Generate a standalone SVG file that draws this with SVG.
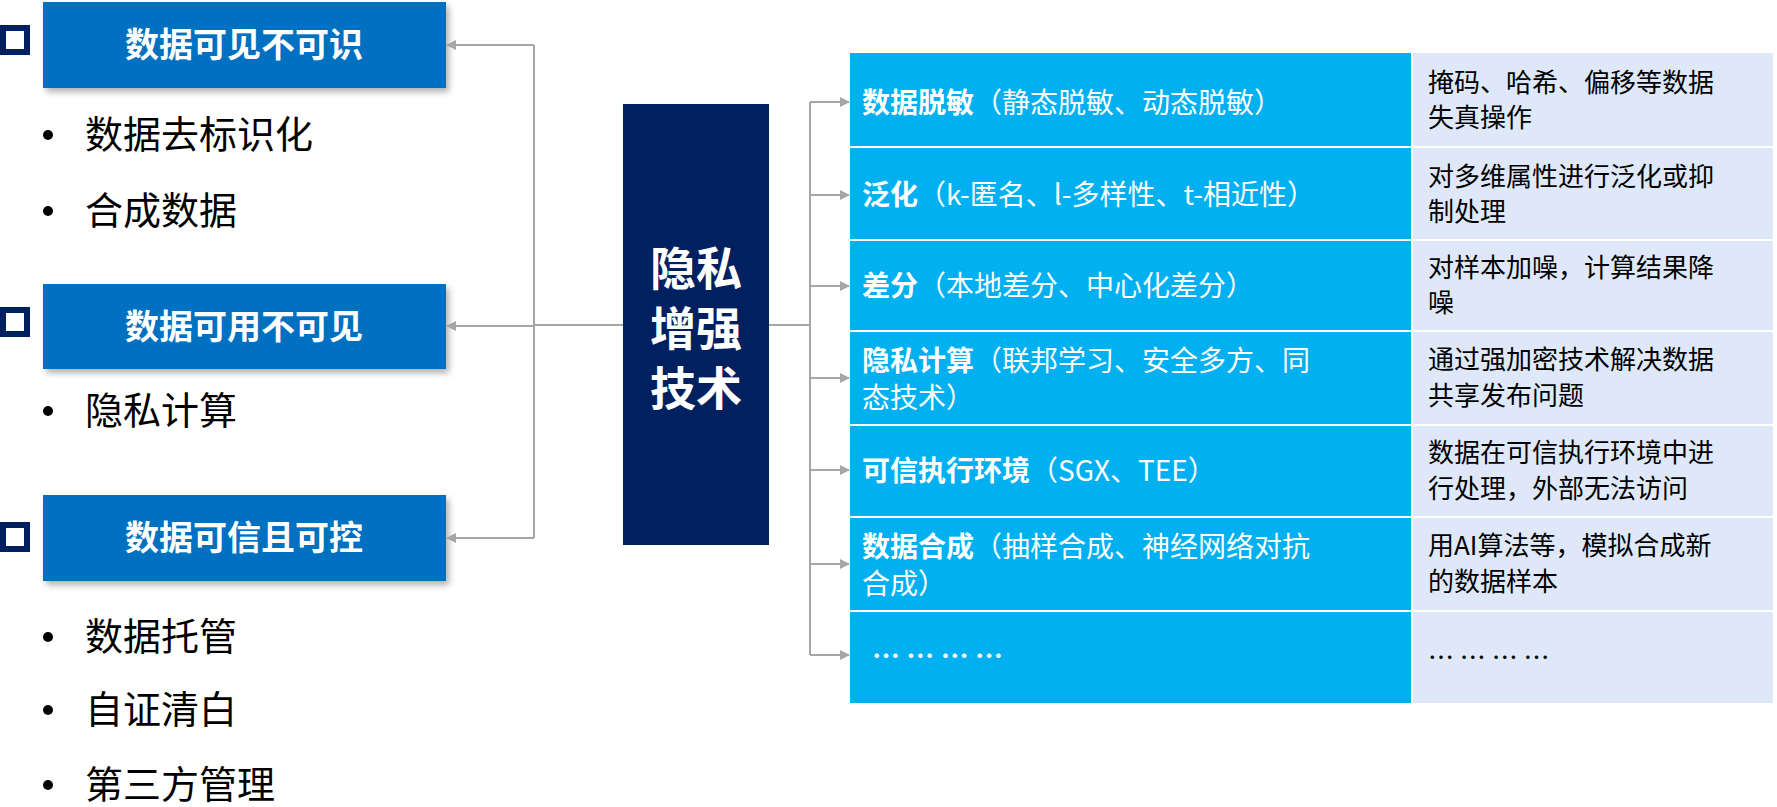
<svg xmlns="http://www.w3.org/2000/svg" width="1777" height="807" viewBox="0 0 1777 807">
<defs>
<marker id="ah" markerWidth="10" markerHeight="10" refX="9" refY="5" orient="auto" markerUnits="userSpaceOnUse"><path d="M0,0 L10,5 L0,10 z" fill="#a6a6a6"/></marker>
<filter id="sh" x="-5%" y="-10%" width="115%" height="130%"><feDropShadow dx="3" dy="4" stdDeviation="3" flood-color="#000" flood-opacity="0.3"/></filter>
</defs>
<style>
text{font-family:"Noto Sans CJK SC","Noto Sans",sans-serif}
.hd{fill:#0070c0;filter:url(#sh)}
.hdt{fill:#fff;font-size:34px;font-weight:bold;text-anchor:middle}
.sq{fill:none;stroke:#002060;stroke-width:6}
.bl{font-size:38px;fill:#000}
.c1{fill:#00b0f0}
.c2{fill:#dee8f8}
.t1{font-size:28px;fill:#fff}
.t1 tspan.b{font-weight:bold}
.t2{font-size:26px;fill:#000}
.ln{fill:none;stroke:#a6a6a6;stroke-width:2}
</style>
<g id="n-visible">
<rect class="sq" x="3" y="28" width="24" height="24"/>
<rect class="hd" x="43" y="2" width="403" height="86"/>
<text class="hdt" x="244" y="57">数据可见不可识</text>
<circle cx="48" cy="135" r="5"/><text class="bl" x="85" y="148">数据去标识化</text>
<circle cx="48" cy="211" r="5"/><text class="bl" x="85" y="224">合成数据</text>
</g>
<g id="n-usable">
<rect class="sq" x="3" y="310" width="24" height="24"/>
<rect class="hd" x="43" y="284" width="403" height="85"/>
<text class="hdt" x="244" y="339">数据可用不可见</text>
<circle cx="48" cy="411" r="5"/><text class="bl" x="85" y="424">隐私计算</text>
</g>
<g id="n-trust">
<rect class="sq" x="3" y="525" width="24" height="24"/>
<rect class="hd" x="43" y="495" width="403" height="86"/>
<text class="hdt" x="244" y="550">数据可信且可控</text>
<circle cx="48" cy="637" r="5"/><text class="bl" x="85" y="650">数据托管</text>
<circle cx="48" cy="710" r="5"/><text class="bl" x="85" y="723">自证清白</text>
<circle cx="48" cy="785" r="5"/><text class="bl" x="85" y="798">第三方管理</text>
</g>
<g id="n-center">
<rect x="623" y="104" width="146" height="441" fill="#002060"/>
<text x="696" y="285" fill="#fff" font-size="46" font-weight="bold" text-anchor="middle">隐私</text>
<text x="696" y="345" fill="#fff" font-size="46" font-weight="bold" text-anchor="middle">增强</text>
<text x="696" y="405" fill="#fff" font-size="46" font-weight="bold" text-anchor="middle">技术</text>
</g>
<g id="table">
<rect class="c1" x="850" y="53" width="561" height="93"/><rect class="c2" x="1413" y="53" width="360" height="93"/>
<text class="t1" x="862" y="113"><tspan class="b">数据脱敏</tspan>（静态脱敏、动态脱敏）</text>
<text class="t2" x="1428" y="92">掩码、哈希、偏移等数据</text><text class="t2" x="1428" y="127">失真操作</text>
<rect class="c1" x="850" y="148" width="561" height="91"/><rect class="c2" x="1413" y="148" width="360" height="91"/>
<text class="t1" x="862" y="205"><tspan class="b">泛化</tspan>（k-匿名、l-多样性、t-相近性）</text>
<text class="t2" x="1428" y="186">对多维属性进行泛化或抑</text><text class="t2" x="1428" y="221">制处理</text>
<rect class="c1" x="850" y="241" width="561" height="89"/><rect class="c2" x="1413" y="241" width="360" height="89"/>
<text class="t1" x="862" y="296"><tspan class="b">差分</tspan>（本地差分、中心化差分）</text>
<text class="t2" x="1428" y="277">对样本加噪，计算结果降</text><text class="t2" x="1428" y="312">噪</text>
<rect class="c1" x="850" y="332" width="561" height="92"/><rect class="c2" x="1413" y="332" width="360" height="92"/>
<text class="t1" x="862" y="371"><tspan class="b">隐私计算</tspan>（联邦学习、安全多方、同</text>
<text class="t1" x="862" y="408">态技术）</text>
<text class="t2" x="1428" y="369">通过强加密技术解决数据</text><text class="t2" x="1428" y="405">共享发布问题</text>
<rect class="c1" x="850" y="426" width="561" height="90"/><rect class="c2" x="1413" y="426" width="360" height="90"/>
<text class="t1" x="862" y="481"><tspan class="b">可信执行环境</tspan>（SGX、TEE）</text>
<text class="t2" x="1428" y="462">数据在可信执行环境中进</text><text class="t2" x="1428" y="498">行处理，外部无法访问</text>
<rect class="c1" x="850" y="518" width="561" height="92"/><rect class="c2" x="1413" y="518" width="360" height="92"/>
<text class="t1" x="862" y="557"><tspan class="b">数据合成</tspan>（抽样合成、神经网络对抗</text>
<text class="t1" x="862" y="594">合成）</text>
<text class="t2" x="1428" y="555">用AI算法等，模拟合成新</text><text class="t2" x="1428" y="591">的数据样本</text>
<rect class="c1" x="850" y="612" width="561" height="91"/><rect class="c2" x="1413" y="612" width="360" height="91"/>
<text class="t1" x="872" y="667" font-weight="bold">… … … …</text>
<text class="t2" x="1428" y="667">… … … …</text>
</g>
<g id="connectors">
<path class="ln" d="M623,325 H534"/>
<path class="ln" d="M534,45 V538"/>
<path class="ln" marker-end="url(#ah)" d="M534,45 H447"/>
<path class="ln" marker-end="url(#ah)" d="M534,326 H447"/>
<path class="ln" marker-end="url(#ah)" d="M534,538 H447"/>
<path class="ln" d="M769,325 H810"/>
<path class="ln" d="M810,102 V655"/>
<path class="ln" marker-end="url(#ah)" d="M810,102 H849"/>
<path class="ln" marker-end="url(#ah)" d="M810,195 H849"/>
<path class="ln" marker-end="url(#ah)" d="M810,286 H849"/>
<path class="ln" marker-end="url(#ah)" d="M810,378 H849"/>
<path class="ln" marker-end="url(#ah)" d="M810,470 H849"/>
<path class="ln" marker-end="url(#ah)" d="M810,564 H849"/>
<path class="ln" marker-end="url(#ah)" d="M810,655 H849"/>
</g>
</svg>
